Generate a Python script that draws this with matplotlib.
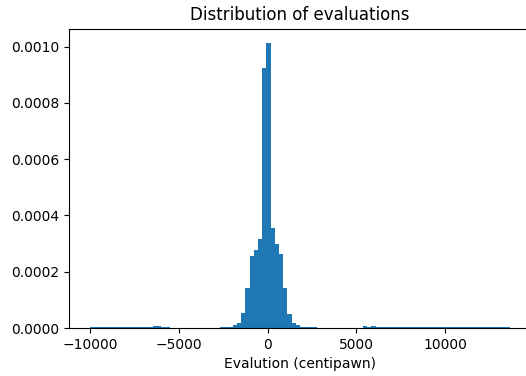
import numpy as np
import matplotlib
matplotlib.use("Agg")
import matplotlib.pyplot as plt

# bin range of the evaluations (centipawn), 100 equal bins
eval_min = -10000
eval_max = 13650
n_bins = 100

# density per bin (left to right)
density = [
    2.0e-6, 2.0e-6, 2.0e-6, 2.0e-6, 2.0e-6, 2.0e-6, 2.0e-6, 2.0e-6, 2.0e-6, 2.0e-6,
    3.0e-6, 3.0e-6, 3.0e-6, 3.0e-6, 3.0e-6, 6.0e-6, 6.0e-6, 2.0e-6, 2.0e-6, 0.0,
    0.0, 0.0, 0.0, 0.0, 0.0, 0.0, 0.0, 0.0, 0.0, 0.0,
    0.0, 2.5e-6, 2.5e-6, 4.7e-6, 9.5e-6, 1.9e-5, 5.45e-5, 1.41e-4, 2.57e-4, 2.78e-4,
    3.18e-4, 9.25e-4, 1.014e-3, 3.57e-4, 3.0e-4, 2.64e-4, 1.41e-4, 5.1e-5, 1.78e-5, 9.5e-6,
    4.7e-6, 2.5e-6, 2.5e-6, 2.5e-6, 0.0, 0.0, 0.0, 0.0, 0.0, 0.0,
    0.0, 0.0, 0.0, 0.0, 0.0, 5.5e-6, 2.5e-6, 5.5e-6, 2.5e-6, 2.5e-6,
    2.5e-6, 2.5e-6, 2.5e-6, 2.5e-6, 2.5e-6, 2.5e-6, 2.0e-6, 2.0e-6, 2.0e-6, 2.0e-6,
    2.0e-6, 2.0e-6, 2.0e-6, 2.0e-6, 2.0e-6, 2.0e-6, 2.0e-6, 2.0e-6, 2.0e-6, 2.0e-6,
    2.0e-6, 2.0e-6, 2.0e-6, 2.0e-6, 2.0e-6, 2.0e-6, 2.0e-6, 2.0e-6, 2.0e-6, 2.0e-6,
]

edges = np.linspace(eval_min, eval_max, n_bins + 1)
centers = (edges[:-1] + edges[1:]) / 2

fig = plt.figure(figsize=(5.26, 3.76), dpi=100)
# right side of the axes runs just past the edge of the picture
ax = fig.add_axes([69 / 526, 48 / 376, 462 / 526, 299.5 / 376])
ax.hist(centers, bins=edges, weights=density, color="#1f77b4")

ax.set_title("Distribution of evaluations", fontsize=12)
ax.set_xlabel("Evalution (centipawn)")

fig.savefig("out.png", dpi=100)
